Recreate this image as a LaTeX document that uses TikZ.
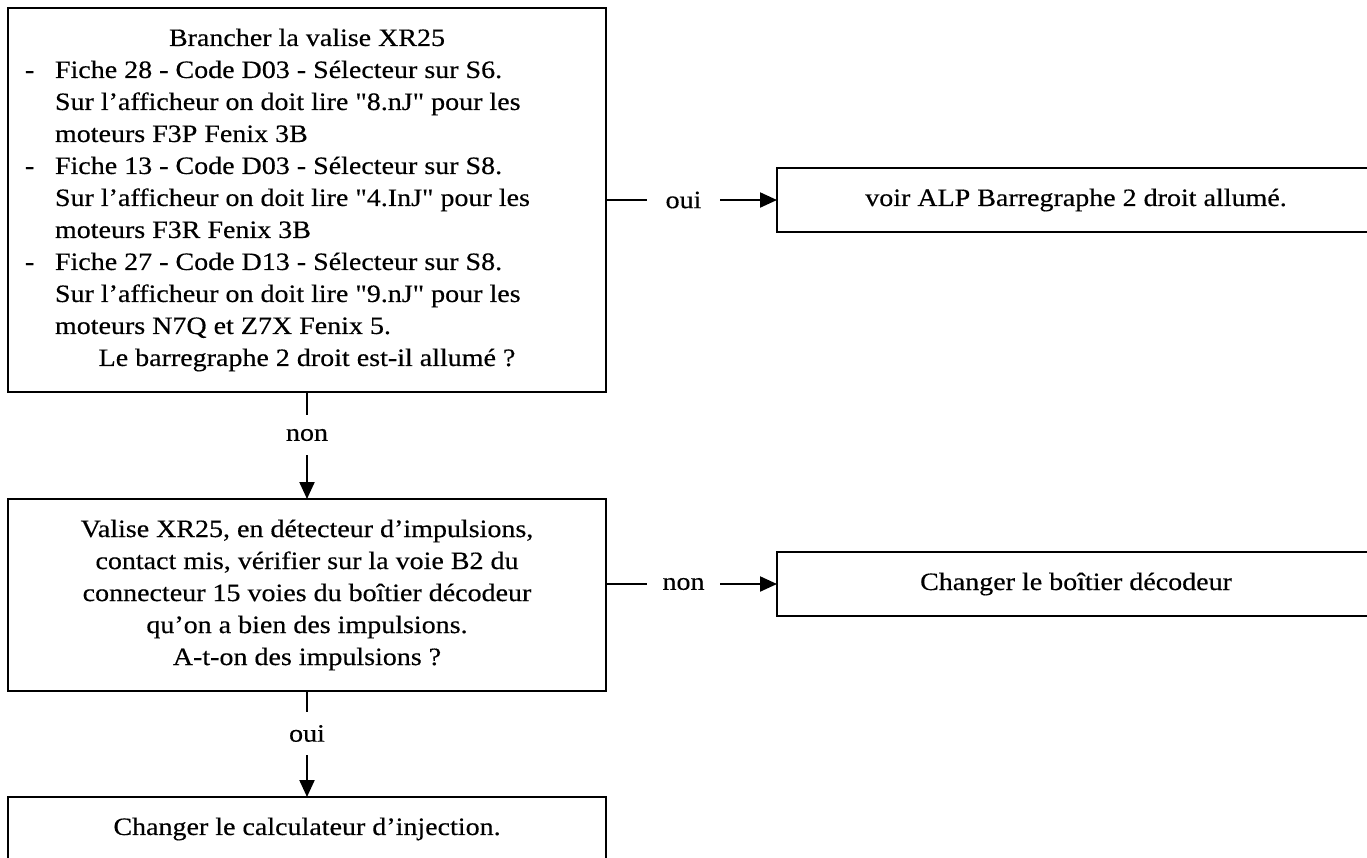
\documentclass[tikz,border=0pt]{standalone}
\usepackage{fontspec}
\setmainfont{Liberation Serif}[Ligatures=TeXOff,FakeStretch=1.12,FakeBold=0.4]
\usetikzlibrary{arrows.meta}
\newcommand\dashitem[1]{\par\hspace*{17pt}\makebox[30pt][l]{-}#1}
\newcommand\contline[1]{\par\hspace*{47pt}#1}
\begin{document}
\begin{tikzpicture}[x=1pt,y=-1pt,
  every node/.style={font=\fontsize{25}{32}\selectfont},
  box/.style={draw, line width=2.5pt, minimum width=598pt, inner sep=0pt, outer sep=0pt, anchor=north west},
  lbl/.style={inner sep=0pt, outer sep=0pt},
  conn/.style={line width=2.2pt},
  arr/.style={conn, -{Triangle[length=17pt,width=15pt]}}]
\useasboundingbox (0,0) rectangle (1367,857);
\clip (0,0) rectangle (1367,857);
\node[box, minimum height=384pt] (b1) at (8,8) {\parbox{598pt}{\fontsize{25}{32}\selectfont
  \centering Brancher la valise XR25\par\raggedright
  \dashitem{Fiche 28 - Code D03 - Sélecteur sur S6.}
  \contline{Sur l’afficheur on doit lire "8.nJ" pour les}
  \contline{moteurs F3P Fenix 3B}
  \dashitem{Fiche 13 - Code D03 - Sélecteur sur S8.}
  \contline{Sur l’afficheur on doit lire "4.InJ" pour les}
  \contline{moteurs F3R Fenix 3B}
  \dashitem{Fiche 27 - Code D13 - Sélecteur sur S8.}
  \contline{Sur l’afficheur on doit lire "9.nJ" pour les}
  \contline{moteurs N7Q et Z7X Fenix 5.}
  \par\centering Le barregraphe 2 droit est-il allumé ?\par}};
\node[box, minimum height=64pt] (b2) at (777,168) {voir ALP Barregraphe 2 droit allumé.};
\node[box, minimum height=192pt] (b3) at (8,499) {\parbox{598pt}{\fontsize{25}{32}\selectfont\centering
  Valise XR25, en détecteur d’impulsions,\\
  contact mis, vérifier sur la voie B2 du\\
  connecteur 15 voies du boîtier décodeur\\
  qu’on a bien des impulsions.\\
  A-t-on des impulsions ?\par}};
\node[box, minimum height=64pt] (b4) at (777,552) {Changer le boîtier décodeur};
\node[box, minimum height=64pt] (b5) at (8,797) {Changer le calculateur d’injection.};
\node[lbl, minimum width=73pt] (l2) at (683.5,200) {oui};
\node[lbl, minimum width=73pt] (l3) at (683.5,584) {non};
\node[lbl, minimum height=40pt] (l1) at (307,435) {non};
\node[lbl, minimum height=43pt] (l4) at (307,733.5) {oui};
\draw[conn] (b1.east) -- (l2.west);
\draw[arr] (l2.east) -- (b2.west);
\draw[conn] (b3.east |- l3.west) -- (l3.west);
\draw[arr] (l3.east) -- (b4.west);
\draw[conn] (b1.south) -- (l1.north);
\draw[arr] (l1.south) -- (b3.north);
\draw[conn] (b3.south) -- (l4.north);
\draw[arr] (l4.south) -- (b5.north);
\end{tikzpicture}
\end{document}
